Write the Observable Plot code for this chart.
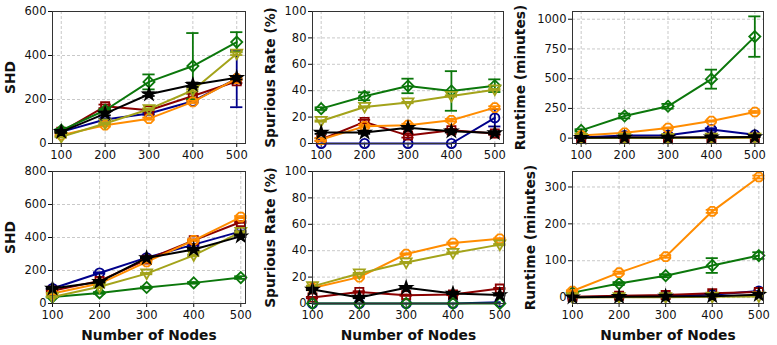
<!DOCTYPE html>
<html><head><meta charset="utf-8">
<script src="https://cdn.jsdelivr.net/npm/d3@7"></script>
<script src="https://cdn.jsdelivr.net/npm/@observablehq/plot@0.6"></script>
<style>
body{margin:0;background:#fff;}
#c{position:relative;width:777px;height:345px;font-family:"DejaVu Sans",sans-serif;}
#c svg{position:absolute;overflow:visible;background:none;}
#c g[aria-label="y-axis label"] text, #c g[aria-label="x-axis label"] text{font-weight:bold;font-size:13.8px;}
</style></head><body><div id="c"></div>
<script>
const nodes = [100, 200, 300, 400, 500];
const methods = ["m1", "m2", "m3", "m4", "m5", "m6"];
const colors = ["#00008b", "#8b0000", "#0b770b", "#ff8c00", "#a3a31a", "#000000"];

// Top row: SHD
const shdTop = [[53,109,136,192,295],[53,169,151,216,283],[60,151,280,352,461],[38,83,113,189,295],[30,91,156,242,408],[53,136,224,267,299]];
const shdTopErr = [[3,5,5,5,130],[3,8,5,10,8],[5,5,34,150,45],[3,5,5,5,5],[2,4,4,5,6],[5,8,8,10,8]];
// Top row: Spurious rate
const spurTop = [[0,0,0,0,19.4],[3,16.4,6,10,7.6],[26.4,35.8,43.6,39.8,43.8],[3,13,13.9,17.6,27.2],[17,27.7,31,36,40.8],[8.3,8.3,12,9.3,8]];
const spurTopErr = [[0,0,0,0,6.5],[1,1.5,1.5,1,1],[1,3,5.5,15,4.8],[1,1,1,1,1],[0.5,0.5,0.5,0.5,0.5],[1,1,1,1,1]];
// Top row: Runtime
const runTop = [[5,22,25,73,28],[2,3,3,4,5],[65,186,268,496,854],[22,45,85,144,220],[1,2,2,3,3],[3,5,5,8,10]];
const runTopErr = [[2,3,3,10,5],[0,0,0,0,0],[10,20,20,80,170],[3,3,5,5,8],[0,0,0,0,0],[1,1,1,1,1]];
// Bottom row: SHD
const shdBot = [[91,185,278,357,437],[77,137,266,383,494],[40,64,97,125,157],[60,121,252,383,524],[40,101,181,292,433],[91,131,276,327,407]];
const shdBotErr = [[3,4,4,5,5],[3,4,4,5,5],[3,5,5,5,8],[3,4,4,5,6],[3,4,4,5,5],[3,4,4,5,5]];
// Bottom row: Spurious rate
const spurBot = [[0,0,0,0,1],[4.5,8.8,6.3,6.8,11.3],[0,0,0,0,0],[11.8,20,37.5,45.8,49],[13,22.7,31,38.3,44.6],[10.6,4.5,12,7.6,6.5]];
const spurBotErr = [[0,0,0,0,0],[0.5,0.5,0.5,0.5,0.5],[0,0,0,0,0],[0.5,0.5,0.5,0.5,0.5],[0.5,0.5,0.5,0.5,0.5],[0.5,0.5,0.5,0.5,0.5]];
// Bottom row: Runtime
const runBot = [[1,3,5,8,18],[2,5,7,12,15],[13.5,38,59.5,87,114],[18,67.6,111,234,327],[0,1,1,2,3],[1,2,3,4,8]];
const runBotErr = [[0,0,0,0,0],[0,0,0,0,0],[2,4,4,20,9],[2,3,3,4,4],[0,0,0,0,0],[0,0,0,0,0]];

const triDown = {draw(ctx, size){ const s = Math.sqrt(size) * 0.62; ctx.moveTo(-s, -s*0.75); ctx.lineTo(s, -s*0.75); ctx.lineTo(0, s*1.0); ctx.closePath(); }};
const octagon = {draw(ctx, size){ const r = Math.sqrt(size / Math.PI); for (let i = 0; i < 8; i++){ const a = Math.PI/8 + i*Math.PI/4; const x = r*Math.cos(a), y = r*Math.sin(a); if (i===0) ctx.moveTo(x,y); else ctx.lineTo(x,y);} ctx.closePath(); }};
const symbols = ["circle", "square", "diamond2", octagon, triDown, "star"];
const radii = [4.6, 4.6, 5, 4.8, 5, 3.6];

function rows(values, errs){
  const out = [];
  values.forEach((vals, si) => vals.forEach((v, i) => out.push({method: methods[si], si, x: nodes[i], y: v, e: errs[si][i]})));
  return out;
}

function panel(o){
  const data = rows(o.values, o.errs);
  const ml = 62, mt = 11, mr = 12;
  const marks = [
    Plot.gridX(nodes, {stroke: "#bbb", strokeOpacity: 1, strokeDasharray: "3,2", strokeWidth: 0.8}),
    Plot.gridY(o.yTicks, {stroke: "#bbb", strokeOpacity: 1, strokeDasharray: "3,2", strokeWidth: 0.8})
  ];
  o.values.forEach((vals, si) => {
    const d = data.filter(r => r.si === si);
    const de = d.filter(r => r.e > 0);
    marks.push(Plot.line(d, {x: "x", y: "y", stroke: colors[si], strokeWidth: 2}));
    marks.push(Plot.ruleX(de, {x: "x", y1: r => r.y - r.e, y2: r => r.y + r.e, stroke: colors[si], strokeWidth: 1.8}));
    marks.push(Plot.ruleY(de, {y: r => r.y - r.e, x1: r => r.x - o.cap, x2: r => r.x + o.cap, stroke: colors[si], strokeWidth: 1.8}));
    marks.push(Plot.ruleY(de, {y: r => r.y + r.e, x1: r => r.x - o.cap, x2: r => r.x + o.cap, stroke: colors[si], strokeWidth: 1.8}));
    const filled = si === 5;
    marks.push(Plot.dot(d, {x: "x", y: "y", symbol: () => symbols[si], r: radii[si], stroke: colors[si], fill: filled ? colors[si] : "none", strokeWidth: 1.8}));
  });
  marks.push(Plot.frame({stroke: "#333", strokeWidth: 1}));
  const p = Plot.plot({
    width: ml + o.fw + mr,
    height: mt + 132 + o.mb,
    marginLeft: ml, marginTop: mt, marginRight: mr, marginBottom: o.mb,
    style: {fontFamily: "DejaVu Sans, sans-serif", fontSize: "11.5px", color: "#111", background: "none"},
    symbol: {type: "identity"},
    x: {domain: o.xDomain, ticks: nodes, tickSize: 4, tickPadding: 3, tickFormat: d => String(d), label: o.xLabel, labelAnchor: "center", labelArrow: "none", labelOffset: 36},
    y: {domain: o.yDomain, ticks: o.yTicks, tickSize: 4, tickPadding: 2, tickFormat: d => String(d), label: o.yLabel, labelAnchor: "center", labelArrow: "none", labelOffset: o.lo},
    marks
  });
  p.style.left = (o.fl - ml) + "px";
  p.style.top = o.top + "px";
  document.getElementById("c").appendChild(p);
}

const topX = [80, 520], botX = [100, 510];
panel({values: shdTop, errs: shdTopErr, yDomain: [0, 600], yTicks: [0,200,400,600], yLabel: "SHD", fl: 52, fw: 193, top: 0, mb: 22, xDomain: topX, xLabel: null, cap: 14, lo: 47});
panel({values: spurTop, errs: spurTopErr, yDomain: [0, 100], yTicks: [0,20,40,60,80,100], yLabel: "Spurious Rate (%)", fl: 312, fw: 191, top: 0, mb: 22, xDomain: topX, xLabel: null, cap: 14, lo: 47});
panel({values: runTop, errs: runTopErr, yDomain: [-45, 1065], yTicks: [0,250,500,750,1000], yLabel: "Runtime (minutes)", fl: 572, fw: 191, top: 0, mb: 22, xDomain: topX, xLabel: null, cap: 14, lo: 57});
panel({values: shdBot, errs: shdBotErr, yDomain: [0, 800], yTicks: [0,200,400,600,800], yLabel: "SHD", fl: 52, fw: 193, top: 160, mb: 42, xDomain: botX, xLabel: "Number of Nodes", cap: 13, lo: 47});
panel({values: spurBot, errs: spurBotErr, yDomain: [0, 100], yTicks: [0,20,40,60,80,100], yLabel: "Spurious Rate (%)", fl: 312, fw: 192, top: 160, mb: 42, xDomain: botX, xLabel: "Number of Nodes", cap: 13, lo: 47});
panel({values: runBot, errs: runBotErr, yDomain: [-16, 342], yTicks: [0,100,200,300], yLabel: "Runtime (minutes)", fl: 572, fw: 191, top: 160, mb: 42, xDomain: botX, xLabel: "Number of Nodes", cap: 13, lo: 47});
</script></body></html>
